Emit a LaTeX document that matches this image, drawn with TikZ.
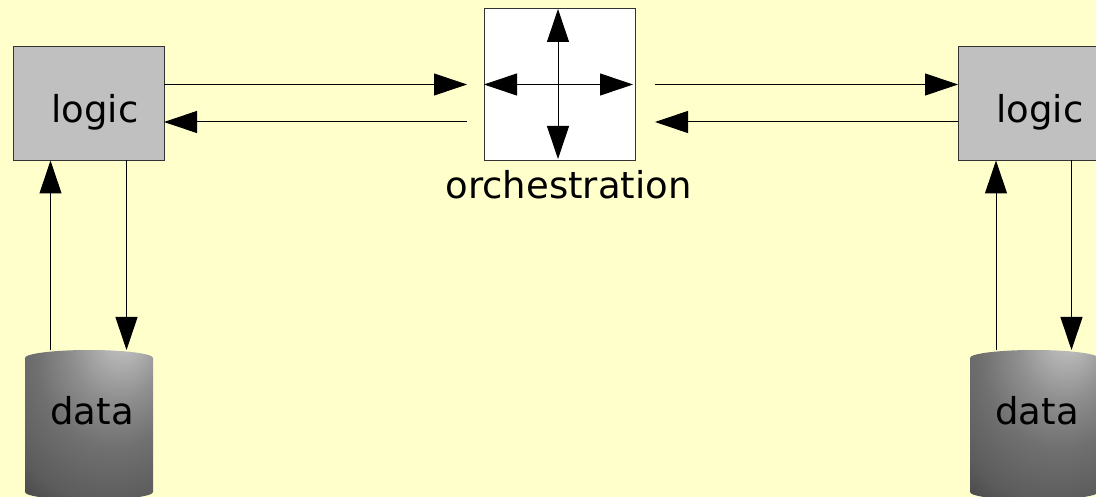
\documentclass[tikz,border=0pt]{standalone}
\usepackage{fontspec}
\setmainfont{DejaVu Sans}
\usetikzlibrary{arrows.meta}
\definecolor{pageColor}{RGB}{255,255,204}
\definecolor{logicColor}{RGB}{192,192,192}
\definecolor{borderColor}{RGB}{51,51,51}
\pgfdeclareradialshading{dataShade}{\pgfpoint{14bp}{32bp}}{
  color(0bp)=(black!24); color(6bp)=(black!28); color(18bp)=(black!44);
  color(30bp)=(black!56); color(44bp)=(black!64); color(54bp)=(black!74); color(66bp)=(black!82); color(100bp)=(black!84)}
\tikzstyle{diagram} = [x = 1pt, y = -1pt, every node/.style={inner sep=0pt, outer sep=0pt}]
\tikzstyle{boxStyle} = [draw=borderColor, line width=1pt, minimum width=151pt, minimum height=114pt]
\tikzstyle{logicStyle} = [boxStyle, fill=logicColor]
\tikzstyle{dataArea} = [minimum width=128pt, minimum height=150pt]
\tikzstyle{boxText} = [font=\fontsize{37}{40}\selectfont, anchor=base]
\tikzstyle{flowLine} = [line width=1pt, black, -{Triangle[length=33pt, width=22pt]}]
\tikzstyle{crossLine} = [line width=1pt, black, {Triangle[length=33pt, width=22pt]}-{Triangle[length=33pt, width=22pt]}]
\newcommand{\logicBox}[3]{
  \node [logicStyle] (#1) at (#2, 103.5) {};
  \node [boxText] (#1Text) at (#3, 123) {logic};
}
\newcommand{\dataStore}[3]{
  \shade [shading=dataShade] (#2 - 64, 358) arc [start angle=180, end angle=0, x radius=64pt, y radius=8pt]
    -- (#2 + 64, 492) arc [start angle=0, end angle=-180, x radius=64pt, y radius=8pt] -- cycle;
  \node [dataArea] (#1) at (#2, 425) {};
  \node [boxText] (#1Text) at (#3, 424) {data};
}
\begin{document}
\begin{tikzpicture}[diagram]
  \fill [pageColor] (0,0) rectangle (1096,497);
  \useasboundingbox (0,0) rectangle (1096,497);

  \logicBox{logicLeft}{88.5}{95}
  \logicBox{logicRight}{1033.5}{1040}
  \dataStore{dataLeft}{89}{92}
  \dataStore{dataRight}{1034}{1037}

  \node [boxStyle, fill=white, minimum height=152pt] (orch) at (559.5, 84.5) {};
  \node [boxText] (orchText) at (568.5, 198.5) {orchestration};

  \coordinate (orchWestTop) at (467, 84.5);
  \coordinate (orchWestLow) at (467, 122);
  \coordinate (orchEastTop) at (655, 84.5);
  \coordinate (orchEastLow) at (655, 122);
  \coordinate (crossWest) at (484, 84.5);
  \coordinate (crossEast) at (633, 84.5);
  \coordinate (crossNorth) at (558, 9);
  \coordinate (crossSouth) at (558, 159);

  % logic to orchestration
  \draw [flowLine] (logicLeft.east |- orchWestTop) -- (orchWestTop);
  \draw [flowLine] (orchWestLow) -- (logicLeft.east |- orchWestLow);
  \draw [flowLine] (orchEastTop) -- (logicRight.west |- orchEastTop);
  \draw [flowLine] (logicRight.west |- orchEastLow) -- (orchEastLow);

  % logic to data
  \coordinate (leftDown) at (126.5, 250);
  \coordinate (leftUp) at (50.5, 250);
  \coordinate (rightDown) at (1071.5, 250);
  \coordinate (rightUp) at (996, 250);
  \draw [flowLine] (leftDown |- logicLeft.south) -- (leftDown |- dataLeft.north);
  \draw [flowLine] (leftUp |- dataLeft.north) -- (leftUp |- logicLeft.south);
  \draw [flowLine] (rightDown |- logicRight.south) -- (rightDown |- dataRight.north);
  \draw [flowLine] (rightUp |- dataRight.north) -- (rightUp |- logicRight.south);

  % inside the orchestration box
  \draw [crossLine] (crossWest) -- (crossEast);
  \draw [crossLine] (crossNorth) -- (crossSouth);
\end{tikzpicture}
\end{document}
